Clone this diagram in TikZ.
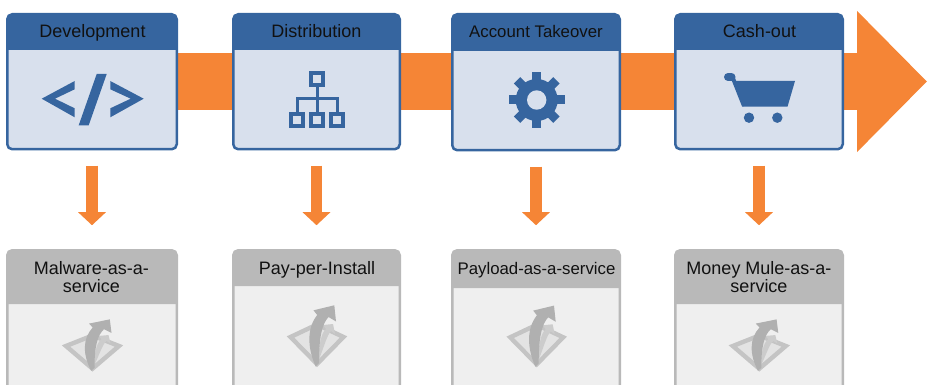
\documentclass[tikz,border=0pt]{standalone}
\usepackage{fontspec}
\setmainfont{Liberation Sans}
\usetikzlibrary{arrows.meta,backgrounds,calc}
\definecolor{hblue}{HTML}{36659F}
\definecolor{pblue}{HTML}{D8E0ED}
\definecolor{flow}{HTML}{F58536}
\definecolor{hgrey}{HTML}{B9B9B9}
\definecolor{pgrey}{HTML}{EFEFEF}
\definecolor{ink}{HTML}{111111}
\tikzset{
  x=1pt,y=-1pt,
  card/.style={draw=#1,line width=2.5pt,rounded corners=5pt,inner sep=0pt,outer sep=0pt,anchor=north west},
  bluecard/.style={card=hblue,fill=pblue},
  greycard/.style={card=hgrey,fill=pgrey},
  title/.style={text=ink,align=center,inner sep=0pt,font=\fontsize{#1}{18.5}\selectfont},
  title/.default=18,
  downflow/.style={draw=flow,line width=11.5pt,-{Triangle[width=27pt,length=13pt]},shorten <=16.5pt,shorten >=25pt},
  band/.style={draw=flow,line width=57pt,-{Triangle[width=137pt,length=70pt]}},
  glyph/.style={fill=hblue,draw=none},
  glyphline/.style={draw=hblue,line width=3pt},
  glyphsquare/.style={draw=hblue,line width=4pt},
  svc/.pic={
    \draw[draw=black!23,fill=black!11,line width=4.4pt,line join=miter] (-26.5,0) -- (0,-12.5) -- (26.5,0) -- (0,27) -- cycle;
    \fill[black!20] (1,25) .. controls (2,8) and (4,-4) .. (9,-8) -- (6,-12) -- (16,-13) -- (18,-3) -- (14,-6) .. controls (10,-2) and (7,10) .. (1,25) -- cycle;
    \fill[black!31] (-1.3,29.5) .. controls (-10,10) and (-10,-9) .. (0.2,-22) -- (-3.5,-26.7) -- (17.3,-31.7) -- (19,-15.5) -- (11.5,-20) .. controls (5,-13) and (2,0) .. (2,26) -- cycle;
  },
  codeglyph/.pic={
    \fill[glyph] (41.7,98.7) -- (74.7,81) -- (74.7,89.3) -- (55,98.7) -- (74.7,108.3) -- (74.7,117.3) -- cycle;
    \fill[glyph] (110.3,81) -- (143.7,98.7) -- (110.3,117.3) -- (110.3,108.3) -- (130.7,98.7) -- (110.3,89.3) -- cycle;
    \fill[glyph] (96.7,74) -- (106.7,74) -- (88.7,125.3) -- (78.7,125.3) -- cycle;
  },
  treeglyph/.pic={
    \draw[glyphsquare] (311.3,73.3) rectangle (323.3,85.3);
    \draw[glyphsquare] (291.3,114) rectangle (303.3,126);
    \draw[glyphsquare] (311.3,114) rectangle (323.3,126);
    \draw[glyphsquare] (331.3,114) rectangle (343.3,126);
    \draw[glyphline] (317.3,87) -- (317.3,112);
    \draw[glyphline,line join=miter] (297.3,112) -- (297.3,98.5) -- (337.3,98.5) -- (337.3,112);
  },
  gearglyph/.pic={
    \foreach \a in {0,45,...,315}
      \fill[glyph,rotate around={\a:(536.7,100)}] (532.2,72.2) rectangle (541.2,86);
    \fill[glyph] (536.7,100) circle[radius=21];
    \fill[pblue] (536.7,100) circle[radius=9.7];
  },
  cartglyph/.pic={
    \fill[glyph] (733,81) -- (795,81) -- (787.5,106.7) -- (742.7,106.7) -- cycle;
    \draw[hblue,line width=4pt] (732.5,77) -- (744,106);
    \draw[hblue,line width=8pt,line cap=round] (728,77) -- (731.5,77);
    \fill[glyph] (749,117.7) circle[radius=5.2];
    \fill[glyph] (777.3,117.7) circle[radius=5.2];
  },
}
\begin{document}
\begin{tikzpicture}
\clip (0,0) rectangle (927,385);
% stage cards
\node[bluecard,minimum width=169.5pt,minimum height=135pt] (dev) at (7.25,14.25) {};
\node[bluecard,minimum width=166.5pt,minimum height=135pt] (dist) at (233.25,14.25) {};
\node[bluecard,minimum width=167.5pt,minimum height=136pt] (take) at (452.25,14.25) {};
\node[bluecard,minimum width=167.5pt,minimum height=135pt] (cash) at (675.25,14.25) {};
\fill[hblue,rounded corners=5pt] (dev.west |- 0,50) [sharp corners] -- (dev.east |- 0,50) [rounded corners=5pt] -- (dev.north east) -- (dev.north west) [sharp corners] -- cycle;
\fill[hblue,rounded corners=5pt] (dist.west |- 0,50) [sharp corners] -- (dist.east |- 0,50) [rounded corners=5pt] -- (dist.north east) -- (dist.north west) [sharp corners] -- cycle;
\fill[hblue,rounded corners=5pt] (take.west |- 0,51) [sharp corners] -- (take.east |- 0,51) [rounded corners=5pt] -- (take.north east) -- (take.north west) [sharp corners] -- cycle;
\fill[hblue,rounded corners=5pt] (cash.west |- 0,50) [sharp corners] -- (cash.east |- 0,50) [rounded corners=5pt] -- (cash.north east) -- (cash.north west) [sharp corners] -- cycle;
\node[title,anchor=base] (tdev) at (92.5,37.3) {Development};
\node[title,anchor=base] (tdist) at (316.5,37.3) {Distribution};
\node[title=16.8,anchor=base] (ttake) at (536,37.3) {Account Takeover};
\node[title,anchor=base] (tcash) at (759.5,37.3) {Cash-out};
\pic {codeglyph};
\pic {treeglyph};
\pic {gearglyph};
\pic {cartglyph};
% service cards
\node[greycard,minimum width=169.5pt,minimum height=170pt] (mw) at (7.25,250.25) {};
\node[greycard,minimum width=166.5pt,minimum height=170pt] (ppi) at (233.25,250.25) {};
\node[greycard,minimum width=167.5pt,minimum height=170pt] (pay) at (452.25,250.25) {};
\node[greycard,minimum width=167.5pt,minimum height=170pt] (mule) at (675.25,250.25) {};
\fill[hgrey,rounded corners=5pt] (mw.west |- 0,304) [sharp corners] -- (mw.east |- 0,304) [rounded corners=5pt] -- (mw.north east) -- (mw.north west) [sharp corners] -- cycle;
\fill[hgrey,rounded corners=5pt] (ppi.west |- 0,286) [sharp corners] -- (ppi.east |- 0,286) [rounded corners=5pt] -- (ppi.north east) -- (ppi.north west) [sharp corners] -- cycle;
\fill[hgrey,rounded corners=5pt] (pay.west |- 0,288) [sharp corners] -- (pay.east |- 0,288) [rounded corners=5pt] -- (pay.north east) -- (pay.north west) [sharp corners] -- cycle;
\fill[hgrey,rounded corners=5pt] (mule.west |- 0,304) [sharp corners] -- (mule.east |- 0,304) [rounded corners=5pt] -- (mule.north east) -- (mule.north west) [sharp corners] -- cycle;
\node[title] (tmw) at (91.5,277) {Malware-as-a-\\service};
\node[title,anchor=base] (tppi) at (317,274.3) {Pay-per-Install};
\node[title=16.8,anchor=base] (tpay) at (536.5,274.3) {Payload-as-a-service};
\node[title] (tmule) at (759,277) {Money Mule-as-a-\\service};
\pic[yscale=.84] at (92.5,346) {svc};
\pic at (317,337) {svc};
\pic at (536.7,337.3) {svc};
\pic[yscale=.84] at (759.3,346) {svc};
% connectors
\coordinate (bandtip) at (927,81.5);
\begin{scope}[on background layer]
  \draw[band] (dev.center |- bandtip) -- (bandtip);
\end{scope}
\draw[downflow] (dev.south) -- (dev.south |- mw.north);
\draw[downflow] (dist.south) -- (dist.south |- ppi.north);
\draw[downflow] (take.south) -- (take.south |- pay.north);
\draw[downflow] (cash.south) -- (cash.south |- mule.north);
\end{tikzpicture}
\end{document}
